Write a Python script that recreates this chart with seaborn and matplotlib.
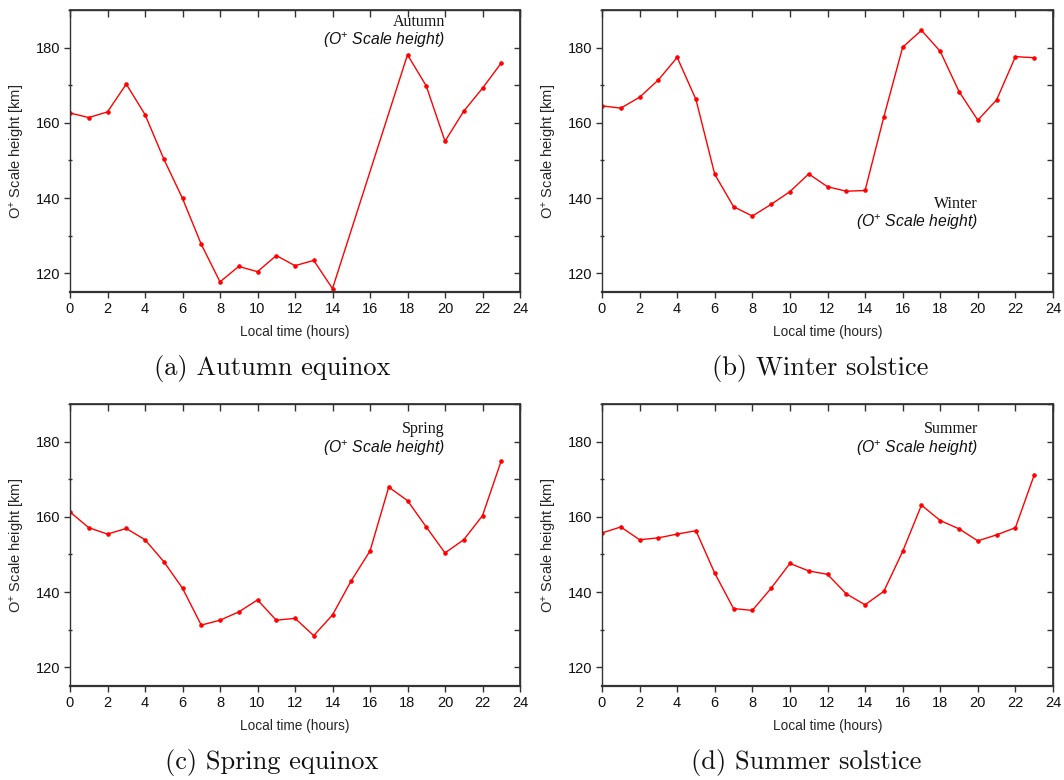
import matplotlib
matplotlib.use("Agg")
import matplotlib.pyplot as plt
import seaborn as sns
from matplotlib.ticker import MultipleLocator

# ---- data ----
hours_autumn = [0, 1, 2, 3, 4, 5, 6, 7, 8, 9, 10, 11, 12, 13, 14, 18, 19, 20, 21, 22, 23]
autumn = [162.6, 161.4, 162.9, 170.3, 162.2, 150.4, 139.9, 127.7, 117.7, 121.8, 120.4,
          124.7, 122.0, 123.4, 115.9, 178.1, 169.8, 155.1, 163.1, 169.2, 175.9]
hours_full = list(range(24))
winter = [164.5, 163.9, 166.8, 171.4, 177.4, 166.2, 146.3, 137.7, 135.2, 138.3, 141.7, 146.4,
          143.0, 141.8, 142.0, 161.6, 180.1, 184.6, 179.0, 168.3, 160.7, 166.1, 177.6, 177.3]
spring = [161.3, 157.1, 155.4, 156.9, 153.9, 148.1, 141.0, 131.2, 132.5, 134.7, 137.9, 132.5,
          133.0, 128.4, 133.9, 143.0, 150.9, 167.9, 164.3, 157.3, 150.4, 153.9, 160.3, 174.9]
summer = [155.7, 157.3, 153.9, 154.4, 155.4, 156.3, 145.0, 135.6, 135.1, 141.0, 147.6, 145.6,
          144.7, 139.5, 136.6, 140.2, 150.8, 163.1, 159.0, 156.8, 153.6, 155.2, 157.1, 171.1]

season_names = ["Autumn", "Winter", "Spring", "Summer"]
captions = ["(a) Autumn equinox", "(b) Winter solstice", "(c) Spring equinox", "(d) Summer solstice"]
x_label = "Local time (hours)"
y_label = r"O$^{+}$ Scale height [km]"
note = r"(O$^{+}$ Scale height)"

sns.set_theme(style="ticks")
plt.rcParams["font.family"] = ["Liberation Sans", "DejaVu Sans"]
plt.rcParams["mathtext.fontset"] = "custom"
plt.rcParams["mathtext.rm"] = "Liberation Sans"
plt.rcParams["mathtext.it"] = "Liberation Sans:italic"

W, H = 1064, 780
fig = plt.figure(figsize=(W / 100, H / 100), dpi=100)

# axes boxes in pixels: left, top, right, bottom
boxes = [(70, 10, 520, 292), (602, 10, 1053, 292), (70, 404, 520, 686), (602, 404, 1053, 686)]
series = [(hours_autumn, autumn), (hours_full, winter), (hours_full, spring), (hours_full, summer)]
note_pos = [(0.833, 0.957, 0.894), (0.834, 0.312, 0.248), (0.833, 0.911, 0.844), (0.834, 0.911, 0.844)]
caption_pos = [(272, 368), (820, 368), (272, 763), (806, 763)]

spine_col = "#333333"
for i, (box, (hx, hy)) in enumerate(zip(boxes, series)):
    l, t, r, b = box
    ax = fig.add_axes([l / W, 1 - b / H, (r - l) / W, (b - t) / H])
    sns.lineplot(x=hx, y=hy, ax=ax, color="#ff0000", linewidth=1.0, marker="o",
                 markersize=2.7, markeredgecolor="#ff0000", markeredgewidth=0.5)
    ax.set_xlim(0, 24)
    ax.set_ylim(115, 190)
    ax.xaxis.set_major_locator(MultipleLocator(2))
    ax.yaxis.set_major_locator(MultipleLocator(20))
    ax.yaxis.set_minor_locator(MultipleLocator(10))
    ax.set_yticks([120, 140, 160, 180])
    ax.tick_params(axis="x", direction="out", length=4, width=1, colors=spine_col,
                   labelcolor="#111111", labelsize=10.5, pad=3)
    ax.tick_params(axis="y", which="major", direction="out", length=4, width=1,
                   colors=spine_col, labelcolor="#111111", labelsize=10.5, pad=3)
    ax.tick_params(axis="y", which="minor", direction="inout", length=3, width=1,
                   colors=spine_col)
    for s in ax.spines.values():
        s.set_color(spine_col)
        s.set_linewidth(1.0)
    ax.spines["bottom"].set_linewidth(1.6)
    ax.set_xlabel(x_label, fontsize=9.8, labelpad=7)
    ax.set_ylabel(y_label, fontsize=10.5, labelpad=6)

    top = ax.secondary_xaxis("top")
    top.xaxis.set_major_locator(MultipleLocator(2))
    top.tick_params(axis="x", direction="in", length=5, width=1, colors=spine_col, labeltop=False)
    top.spines["top"].set_color(spine_col)
    right = ax.secondary_yaxis("right")
    right.yaxis.set_major_locator(MultipleLocator(10))
    right.tick_params(axis="y", direction="in", length=4, width=1, colors=spine_col, labelright=False)
    right.spines["right"].set_color(spine_col)

    nx, ny1, ny2 = note_pos[i]
    ax.text(nx, ny1, season_names[i], transform=ax.transAxes, ha="right", va="center",
            fontsize=11.5, family=["Liberation Serif", "DejaVu Serif"], color="#111111")
    ax.text(nx, ny2, note, transform=ax.transAxes, ha="right", va="center",
            fontsize=11.3, style="italic", color="#111111")

    cx, cy = caption_pos[i]
    fig.text(cx / W, 1 - cy / H, captions[i], ha="center", va="center", fontsize=19,
             family=["cmr10", "DejaVu Serif"], color="#111111")

fig.savefig("out.png", dpi=100)
